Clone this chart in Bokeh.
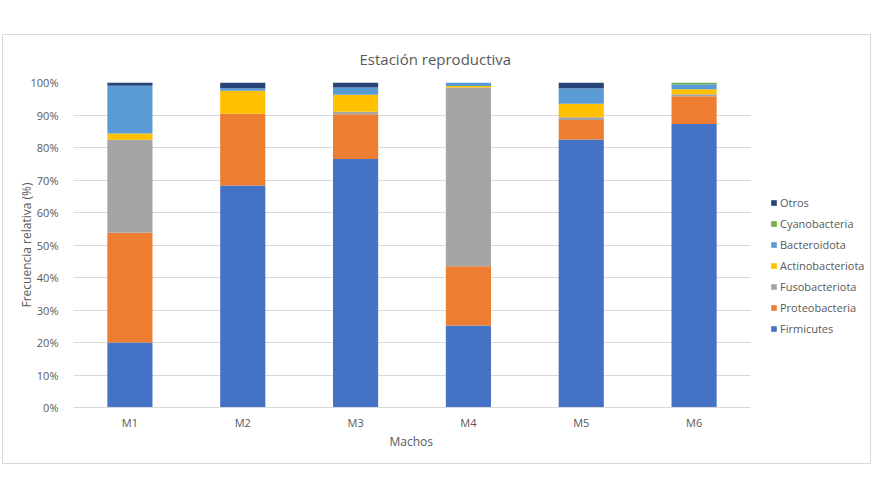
from bokeh.plotting import figure
from bokeh.models import (Range1d, FixedTicker, NumeralTickFormatter, Legend, LegendItem, Title)
from bokeh.embed import file_html
from bokeh.resources import INLINE

machos = ["M1", "M2", "M3", "M4", "M5", "M6"]
phyla = ["Firmicutes", "Proteobacteria", "Fusobacteriota", "Actinobacteriota",
         "Bacteroidota", "Cyanobacteria", "Otros"]
firmicutes = [20.0, 68.3, 76.5, 25.2, 82.5, 87.2]
proteobacteria = [33.8, 22.1, 13.7, 18.3, 6.0, 8.6]
fusobacteriota = [28.6, 0.0, 0.8, 55.0, 0.8, 0.6]
actinobacteriota = [1.9, 7.1, 5.2, 0.4, 4.2, 1.5]
bacteroidota = [14.7, 0.7, 2.3, 1.1, 4.7, 1.6]
cyanobacteria = [0.0, 0.0, 0.0, 0.0, 0.0, 0.5]
otros = [1.0, 1.8, 1.5, 0.0, 1.8, 0.0]
colors = ["#4472C4", "#ED7D31", "#A5A5A5", "#FFC000", "#5B9BD5", "#70AD47", "#264478"]
y_ticks = [0, 0.1, 0.2, 0.3, 0.4, 0.5, 0.6, 0.7, 0.8, 0.9, 1.0]

series = [firmicutes, proteobacteria, fusobacteriota, actinobacteriota,
          bacteroidota, cyanobacteria, otros]
n = len(machos)
xpos = [i + 0.5 for i in range(n)]
data = {"x": xpos}
for name, vals in zip(phyla, series):
    data[name] = [v / 100 for v in vals]

FONT = "Open Sans"
TXT = "#595959"
GRID = "#D9D9D9"

# bar area is 677 px wide; the frame reaches further right to hold the legend
BAR_W, FRAME_W = 677, 795
p = figure(x_range=Range1d(0, n * FRAME_W / BAR_W), y_range=(0, 1),
           frame_width=FRAME_W, frame_height=325,
           output_backend="svg", toolbar_location=None,
           min_border_left=70, min_border_right=2, min_border_top=47, min_border_bottom=56,
           title="Estación reproductiva")
p.margin = (34, 0, 0, 2)
p.styles = {"border": "1px solid #D9D9D9"}
p.outline_line_color = None

p.title.align = "left"
p.title.offset = 286
p.title.text_font = FONT
p.title.text_font_size = "15px"
p.title.text_font_style = "normal"
p.title.text_color = TXT
p.title.vertical_align = "top"
p.title.standoff = 24

renderers = p.vbar_stack(phyla, x="x", width=0.4, color=colors, source=data,
                         line_color=None)

p.xgrid.grid_line_color = None
p.ygrid.grid_line_color = GRID
p.ygrid.ticker = FixedTicker(ticks=y_ticks)
p.ygrid.cross_bounds = (0, n)

p.yaxis.ticker = FixedTicker(ticks=y_ticks)
p.yaxis.formatter = NumeralTickFormatter(format="0%")
p.yaxis.axis_line_color = None
p.yaxis.major_tick_line_color = None
p.yaxis.minor_tick_line_color = None
p.yaxis.axis_label = "Frecuencia relativa (%)"

p.xaxis.ticker = FixedTicker(ticks=xpos)
p.xaxis.major_label_overrides = {x: m for x, m in zip(xpos, machos)}
p.xaxis.bounds = (0, n)
p.xaxis.axis_line_color = GRID
p.xaxis.major_tick_line_color = None
p.xaxis.minor_tick_line_color = None

for ax in (p.xaxis[0], p.yaxis[0]):
    ax.major_label_text_font = FONT
    ax.major_label_text_font_size = "11px"
    ax.major_label_text_color = TXT
    ax.axis_label_text_font = FONT
    ax.axis_label_text_font_size = "12px"
    ax.axis_label_text_font_style = "normal"
    ax.axis_label_text_color = TXT
p.xaxis.major_label_standoff = 1
p.yaxis.major_label_standoff = 9
p.yaxis.axis_label_standoff = -7

# x-axis title, centred under the bar area
xtitle = Title(text="Machos", align="left", offset=316, vertical_align="top", standoff=0,
               text_font=FONT, text_font_size="12px", text_font_style="normal",
               text_color=TXT)
p.add_layout(xtitle, "below")

items = [LegendItem(label=name, renderers=[r]) for name, r in zip(phyla, renderers)]
items.reverse()
legend = Legend(items=items, location=(697, 71), orientation="vertical",
                label_text_font=FONT, label_text_font_size="11px", label_text_color=TXT,
                glyph_width=7, glyph_height=7, label_height=14, spacing=6,
                label_standoff=3, padding=0, margin=0, border_line_color=None,
                background_fill_alpha=0)
p.add_layout(legend)

open("out.html", "w").write(file_html(p, INLINE))
